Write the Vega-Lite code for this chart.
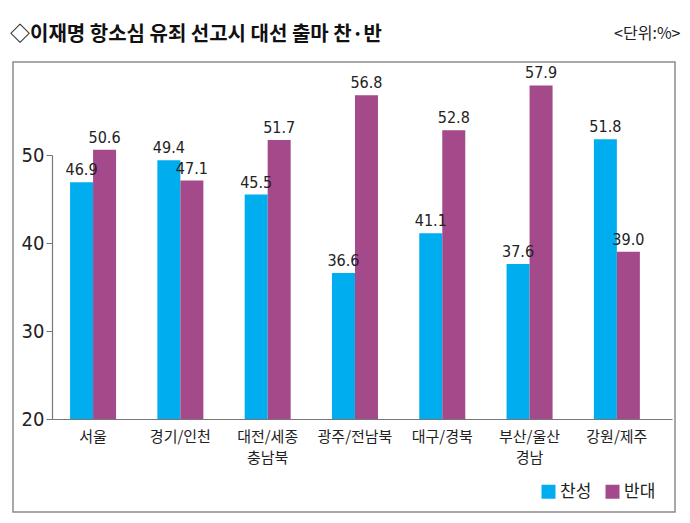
{
  "$schema": "https://vega.github.io/schema/vega-lite/v6.json",
  "width": 662,
  "height": 450,
  "autosize": {"type": "none"},
  "padding": {"left": 13, "top": 62, "right": 15, "bottom": 11},
  "background": "white",
  "title": {
    "text": "◇이재명 항소심 유죄 선고시 대선 출마 찬·반",
    "anchor": "start",
    "frame": "group",
    "font": "Noto Sans CJK KR",
    "fontSize": 20,
    "fontWeight": "bold",
    "color": "#111111",
    "dx": -3,
    "offset": -20
  },
  "config": {
    "view": {"stroke": "#8c8c8c", "strokeWidth": 1.5},
    "font": "Liberation Sans"
  },
  "data": {
    "values": [
      {"region": "서울", "group": "찬성", "value": 46.9},
      {"region": "서울", "group": "반대", "value": 50.6},
      {"region": "경기/인천", "group": "찬성", "value": 49.4},
      {"region": "경기/인천", "group": "반대", "value": 47.1},
      {"region": "대전/세종 충남북", "group": "찬성", "value": 45.5},
      {"region": "대전/세종 충남북", "group": "반대", "value": 51.7},
      {"region": "광주/전남북", "group": "찬성", "value": 36.6},
      {"region": "광주/전남북", "group": "반대", "value": 56.8},
      {"region": "대구/경북", "group": "찬성", "value": 41.1},
      {"region": "대구/경북", "group": "반대", "value": 52.8},
      {"region": "부산/울산 경남", "group": "찬성", "value": 37.6},
      {"region": "부산/울산 경남", "group": "반대", "value": 57.9},
      {"region": "강원/제주", "group": "찬성", "value": 51.8},
      {"region": "강원/제주", "group": "반대", "value": 39.0}
    ]
  },
  "resolve": {"axis": {"x": "independent"}},
  "layer": [
    {
      "mark": {"type": "bar"},
      "encoding": {
        "x": {
          "field": "region",
          "type": "nominal",
          "sort": null,
          "scale": {"range": [39, 659], "paddingInner": 0.473, "paddingOuter": 0.2875, "align": 0.36},
          "axis": {
            "orient": "bottom",
            "offset": -93,
            "title": null,
            "domainColor": "#777777",
            "domainWidth": 1.2,
            "ticks": false,
            "labelAngle": 0,
            "labelFont": "Noto Sans CJK KR",
            "labelFontSize": 15,
            "labelColor": "#222222",
            "labelPadding": 10,
            "labelLineHeight": 21,
            "labelExpr": "split(datum.label, ' ')"
          }
        },
        "xOffset": {"field": "group", "type": "nominal", "sort": ["찬성", "반대"], "scale": {"paddingInner": 0, "paddingOuter": 0}},
        "y": {
          "field": "value",
          "type": "quantitative",
          "scale": {"domain": [20, 50], "range": [357, 93], "nice": false, "zero": false},
          "axis": {
            "orient": "left",
            "offset": -39,
            "values": [20, 30, 40, 50],
            "title": null,
            "grid": false,
            "domainColor": "#777777",
            "domainWidth": 1.2,
            "tickColor": "#777777",
            "tickSize": 6,
            "labelFont": "DejaVu Sans Condensed, Liberation Sans",
            "labelFontSize": 20,
            "labelColor": "#222222",
            "labelPadding": 2
          }
        },
        "y2": {"datum": 20},
        "color": {
          "field": "group",
          "type": "nominal",
          "sort": ["찬성", "반대"],
          "scale": {"domain": ["찬성", "반대"], "range": ["#00AEEF", "#A4498A"]},
          "legend": {
            "orient": "none",
            "legendX": 527,
            "legendY": 421,
            "direction": "horizontal",
            "title": null,
            "symbolType": "square",
            "symbolSize": 196,
            "symbolStrokeWidth": 0,
            "labelFont": "Noto Sans CJK KR",
            "labelFontSize": 17,
            "labelColor": "#222222",
            "labelOffset": 3,
            "columnPadding": 12
          }
        }
      }
    },
    {
      "mark": {"type": "text", "baseline": "bottom", "dy": -4, "font": "DejaVu Sans Condensed, Liberation Sans", "fontSize": 16, "color": "#222222"},
      "encoding": {
        "x": {
          "field": "region",
          "type": "nominal",
          "sort": null,
          "axis": {
            "orient": "top",
            "title": "<단위:%>",
            "labels": false,
            "ticks": false,
            "domain": false,
            "titleFont": "Noto Sans CJK KR",
            "titleFontSize": 16,
            "titleFontWeight": "normal",
            "titleColor": "#222222",
            "titleAnchor": "end",
            "titleAlign": "right",
            "titleBaseline": "middle",
            "titleX": 667,
            "titleY": -29
          }
        },
        "xOffset": {"field": "group", "type": "nominal", "sort": ["찬성", "반대"]},
        "y": {"field": "value", "type": "quantitative"},
        "text": {"field": "value", "type": "quantitative", "format": ".1f"}
      }
    }
  ]
}
